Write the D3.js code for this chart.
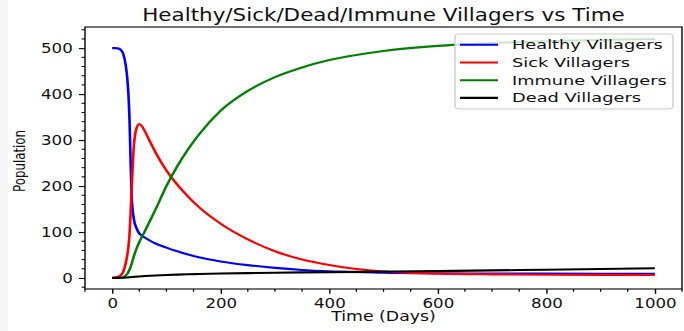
<!DOCTYPE html>
<html>
<head>
<meta charset="utf-8">
<script src="https://cdn.jsdelivr.net/npm/d3@7"></script>
<style>
  body { margin: 0; background: #fff; }
  text { font-family: "DejaVu Sans", sans-serif; fill: #111; }
</style>
</head>
<body>
<script>
// sample days (x values) shared by all series
const days = [0, 5, 10, 15, 20, 25, 28, 30, 32, 34, 36, 38, 40, 45, 50, 55, 60, 70, 80, 100, 120, 140, 160,
  200, 250, 300, 350, 400, 500, 600, 700, 800, 900, 1000];

const healthy = [500, 500, 499.5, 497, 489, 463, 433, 400, 345, 255, 178, 146, 128, 108, 97, 92, 88, 81, 75,
  66, 58, 51, 45, 36, 28, 22, 17.5, 14.5, 11.5, 10.3, 9.7, 9.4, 9.2, 9];
const sick = [1, 1.5, 2.5, 5, 12, 32, 50, 68, 95, 140, 195, 245, 287, 326, 335, 330, 320, 296, 273,
  234, 203, 177, 154, 118, 84, 58, 40, 28, 14, 9.5, 7.8, 7, 6.7, 6.5];
const immune = [0, 0, 0, 0.5, 1.5, 5, 9, 13, 18, 24, 31, 39, 47, 64, 78, 90, 101, 125, 149,
  200, 243, 280, 312, 364, 407, 437, 458, 474, 494, 505, 511, 515, 518, 520];
const dead = [0, 0, 0.2, 0.4, 0.7, 1, 1.2, 1.4, 1.6, 1.8, 2, 2.2, 2.4, 2.9, 3.3, 3.7, 4.1, 4.8, 5.4,
  6.5, 7.3, 8, 8.6, 9.6, 10.6, 11.4, 12.1, 12.7, 13.8, 15, 16.5, 18, 19.5, 21];

const seriesNames = ["Healthy Villagers", "Sick Villagers", "Immune Villagers", "Dead Villagers"];
const seriesColors = ["#0000ff", "#ff0000", "#008000", "#000000"];
const seriesValues = [healthy, sick, immune, dead];

const xTicks = [0, 200, 400, 600, 800, 1000];
const yTicks = [0, 100, 200, 300, 400, 500];

const W = 684, H = 331;
const sx = 1.26; // the picture is stretched sideways

const svg = d3.select("body").append("svg")
  .attr("width", W).attr("height", H);

svg.append("rect").attr("width", W).attr("height", H).attr("fill", "#fff");
svg.append("rect").attr("width", 8).attr("height", H).attr("fill", "#f6f6f6");

const g = svg.append("g").attr("transform", `scale(${sx},1)`);

const plotLeft = 85 / sx, plotRight = 682 / sx, plotTop = 27, plotBottom = 289;

const x = d3.scaleLinear().domain([-50, 1050]).range([plotLeft, plotRight]);
const y = d3.scaleLinear().domain([-24, 546]).range([plotBottom, plotTop]);

const tickLen = 4.86, pad = 4.86;

// x axis
const xAxis = g.append("g").attr("transform", `translate(0,${plotBottom})`)
  .call(d3.axisBottom(x).tickValues(xTicks).tickFormat(d3.format("d"))
    .tickSize(tickLen).tickPadding(pad).tickSizeOuter(0));
xAxis.call(a => a.select(".domain").remove());
xAxis.selectAll(".tick line").attr("stroke", "#000").attr("stroke-width", 1.1);
xAxis.selectAll("text").attr("font-size", 13.2).attr("fill", "#111");
xAxis.append("g").selectAll("line")
  .data(d3.range(-50, 1051, 50).filter(v => v % 200 !== 0))
  .join("line")
  .attr("x1", d => x(d)).attr("x2", d => x(d)).attr("y1", 0).attr("y2", 2.78)
  .attr("stroke", "#000").attr("stroke-width", 1);

// y axis
const yAxis = g.append("g").attr("transform", `translate(${plotLeft},0)`)
  .call(d3.axisLeft(y).tickValues(yTicks).tickFormat(d3.format("d"))
    .tickSize(tickLen).tickPadding(pad).tickSizeOuter(0));
yAxis.call(a => a.select(".domain").remove());
yAxis.selectAll(".tick line").attr("stroke", "#000").attr("stroke-width", 1.1);
yAxis.selectAll("text").attr("font-size", 13.2).attr("fill", "#111");
yAxis.append("g").selectAll("line")
  .data(d3.range(-20, 541, 20).filter(v => v % 100 !== 0))
  .join("line")
  .attr("y1", d => y(d)).attr("y2", d => y(d)).attr("x1", 0).attr("x2", -2.78)
  .attr("stroke", "#000").attr("stroke-width", 1);

// lines
const line = d3.line().curve(d3.curveMonotoneX);
const plot = g.append("g");
seriesValues.forEach((vals, i) => {
  plot.append("path")
    .attr("d", line(days.map((d, j) => [x(d), y(vals[j])])))
    .attr("fill", "none")
    .attr("stroke", seriesColors[i])
    .attr("stroke-width", 2.08)
    .attr("stroke-linejoin", "round");
});

// spines
g.append("rect")
  .attr("x", plotLeft).attr("y", plotTop)
  .attr("width", plotRight - plotLeft).attr("height", plotBottom - plotTop)
  .attr("fill", "none").attr("stroke", "#000").attr("stroke-width", 1.1);

// title and labels
g.append("text")
  .attr("x", (plotLeft + plotRight) / 2).attr("y", 20.7)
  .attr("text-anchor", "middle").attr("font-size", 16.9)
  .attr("textLength", 383).attr("lengthAdjust", "spacingAndGlyphs")
  .text("Healthy/Sick/Dead/Immune Villagers vs Time");

g.append("text")
  .attr("x", (plotLeft + plotRight) / 2).attr("y", 321)
  .attr("text-anchor", "middle").attr("font-size", 13.7)
  .attr("textLength", 83).attr("lengthAdjust", "spacingAndGlyphs")
  .text("Time (Days)");

g.append("text")
  .attr("transform", `translate(${24.5 / sx},${161}) rotate(-90)`)
  .attr("text-anchor", "middle").attr("font-size", 12)
  .attr("textLength", 62).attr("lengthAdjust", "spacingAndGlyphs")
  .text("Population");

// legend
const legendWidths = [119.6, 93.7, 122.8, 102.4];
const lg = g.append("g");
lg.append("rect")
  .attr("x", 455 / sx).attr("y", 34)
  .attr("width", (673 - 455) / sx).attr("height", 75)
  .attr("rx", 3).attr("ry", 3)
  .attr("fill", "#fff").attr("fill-opacity", 0.8)
  .attr("stroke", "#cccccc").attr("stroke-width", 1.1);

seriesNames.forEach((name, i) => {
  const cy = 44.8 + i * 17.7;
  lg.append("line")
    .attr("x1", 460 / sx).attr("x2", 498 / sx)
    .attr("y1", cy).attr("y2", cy)
    .attr("stroke", seriesColors[i]).attr("stroke-width", 2.08);
  lg.append("text")
    .attr("x", 512 / sx).attr("y", cy + 4.6)
    .attr("font-size", 12.8)
    .attr("textLength", legendWidths[i]).attr("lengthAdjust", "spacingAndGlyphs")
    .text(name);
});
</script>
</body>
</html>
